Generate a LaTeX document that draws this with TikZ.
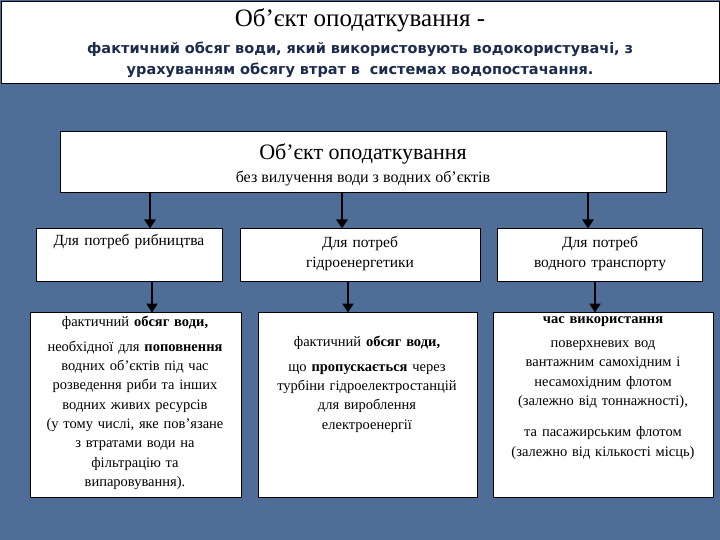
\documentclass[tikz,border=0pt]{standalone}
\usepackage{fontspec}
\setmainfont{Liberation Serif}
\newfontfamily\hsans{DejaVu Sans}
\usetikzlibrary{arrows.meta}
\definecolor{bg}{HTML}{4E6E98}
\definecolor{navy}{HTML}{1C2C4C}
\begin{document}
\begin{tikzpicture}[x=1pt,y=-1pt,
  bx/.style={draw=black,line width=1.3pt,fill=white},
  arr/.style={line width=2.2pt,-{Triangle[length=9pt,width=11pt]}},
  mid/.style={align=center,text width=230pt,font=\fontsize{15.5}{20}\selectfont},
  low/.style={align=center,anchor=north,text width=215pt,font=\fontsize{14.5}{19.3}\selectfont}]
\fill[bg] (0,0) rectangle (720,540);
\useasboundingbox (0,0) rectangle (720,540);
% header
\node[bx,minimum width=718,minimum height=82,anchor=north west] (hdr) at (1,1) {};
\node[font=\fontsize{25}{28}\selectfont] at (360,20) (h1) {Об’єкт оподаткування -};
\node[align=center,text width=700pt,text=navy,font=\hsans\bfseries\fontsize{14.5}{21}\selectfont] at (360,60) (h2) {фактичний обсяг води, який використовують водокористувачі, з\\ урахуванням обсягу втрат в\ \ системах водопостачання.};
% main
\node[bx,minimum width=606,minimum height=61,anchor=north west] (main) at (60,131) {};
\node[font=\fontsize{22}{24}\selectfont] at (363,154) (m1) {Об’єкт оподаткування};
\node[font=\fontsize{16}{18}\selectfont] at (363,179) (m2) {без вилучення води з водних об’єктів};
% middle
\node[bx,minimum width=186,minimum height=53,anchor=north west] (a) at (36,228) {};
\node[bx,minimum width=240,minimum height=53,anchor=north west] (b) at (240,228) {};
\node[bx,minimum width=205,minimum height=53,anchor=north west] (c) at (497,228) {};
\node[mid] (ta) at (129,242) {Для потреб рибництва};
\node[mid] (tb) at (360,254) {Для потреб\\ гідроенергетики};
\node[mid] (tc) at (600,254) {Для потреб\\ водного транспорту};
% bottom
\node[bx,minimum width=211,minimum height=185,anchor=north west] (d) at (30,312) {};
\node[bx,minimum width=219,minimum height=185,anchor=north west] (e) at (258,312) {};
\node[bx,minimum width=220,minimum height=185,anchor=north west] (f) at (493,312) {};
\node[low] (td) at (135,313) {фактичний \textbf{обсяг води,}\\[5pt] необхідної для \textbf{поповнення}\\ водних об'єктів під час\\ розведення риби та інших\\ водних живих ресурсів\\ (у тому числі, яке пов'язане\\ з втратами води на\\ фільтрацію та\\ випаровування).};
\node[low] (te) at (367,333) {фактичний \textbf{обсяг води,}\\[5pt] що \textbf{пропускається} через\\ турбіни гідроелектростанцій\\ для вироблення\\ електроенергії};
\node[low] (tf) at (603,313) {\textbf{час використання}\\[5pt] поверхневих вод\\ вантажним самохідним і\\ несамохідним флотом\\ (залежно від тоннажності),\\[12pt] та пасажирським флотом\\ (залежно від кількості місць)};
% arrows
\draw[arr] (150,192) -- (150,228.5);
\draw[arr] (342,192) -- (342,228.5);
\draw[arr] (588,192) -- (588,228.5);
\draw[arr] (152,281) -- (152,312.5);
\draw[arr] (348,281) -- (348,312.5);
\draw[arr] (595,281) -- (595,312.5);
\end{tikzpicture}
\end{document}
